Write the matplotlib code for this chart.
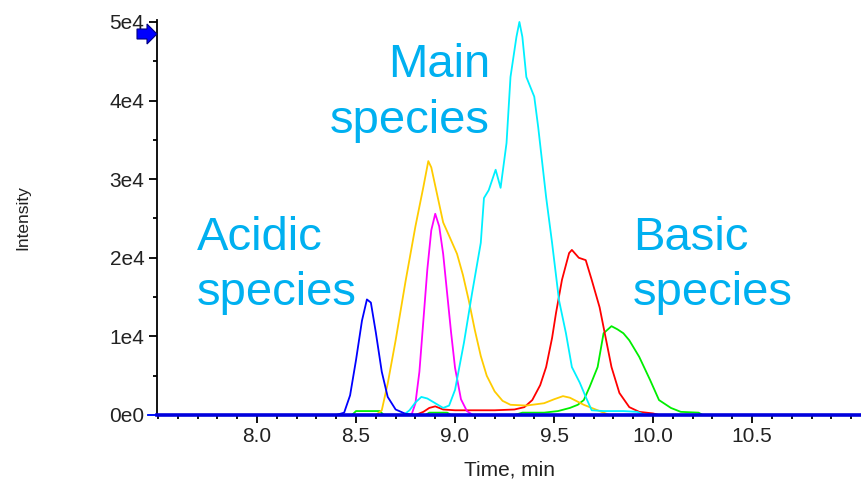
import matplotlib
matplotlib.use("Agg")
import matplotlib.pyplot as plt
from matplotlib.patches import Polygon
from matplotlib.ticker import MultipleLocator, FixedLocator

plt.rcParams['font.family'] = ['Liberation Sans', 'DejaVu Sans']

# chromatogram traces (time in min, intensity in counts)
blue_t = [7.45, 8.40, 8.44, 8.47, 8.50, 8.53, 8.555, 8.575, 8.60, 8.63, 8.66, 8.70, 8.75, 8.80, 11.1]
blue_i = [0, 0, 300, 2500, 7000, 12000, 14700, 14300, 10500, 5500, 2300, 700, 150, 0, 0]

yellow_t = [7.45, 8.60, 8.63, 8.66, 8.70, 8.75, 8.80, 8.84, 8.865, 8.88, 8.91, 8.94, 8.97, 9.01,
            9.04, 9.07, 9.10, 9.13, 9.16, 9.20, 9.24, 9.28, 9.36, 9.45, 9.50, 9.545, 9.58, 9.65,
            9.72, 9.78, 11.1]
yellow_i = [0, 0, 600, 4000, 9500, 17000, 24000, 29000, 32300, 31500, 28000, 24500, 22800, 20500,
            17800, 14500, 10800, 7500, 5000, 3000, 1800, 1300, 1200, 1500, 2000, 2400, 2200, 1300,
            600, 0, 0]

magenta_t = [7.45, 8.78, 8.80, 8.82, 8.84, 8.86, 8.88, 8.90, 8.92, 8.94, 8.96, 8.98, 9.00, 9.03,
             9.06, 9.09, 11.1]
magenta_i = [0, 0, 1500, 5500, 12000, 18500, 23500, 25600, 24000, 20500, 15500, 10500, 6000, 2000,
             500, 0, 0]

cyan_t = [7.45, 8.74, 8.77, 8.80, 8.83, 8.86, 8.90, 8.94, 8.97, 9.00, 9.045, 9.086, 9.13, 9.146,
          9.17, 9.205, 9.23, 9.26, 9.28, 9.31, 9.325, 9.34, 9.36, 9.40, 9.42, 9.46, 9.49, 9.525,
          9.56, 9.59, 9.63, 9.66, 9.69, 9.75, 9.85, 9.92, 9.96, 11.1]
cyan_i = [0, 0, 600, 1600, 2300, 2100, 1500, 900, 1200, 3200, 9200, 15500, 21900, 27600,
          28600, 31200, 28900, 34600, 43000, 48100, 50000, 48100, 43000, 40500, 36600, 27700, 21900, 14600,
          10400, 6100, 4100, 2300, 600, 500, 500, 400, 0, 0]

red_t = [7.45, 8.80, 8.84, 8.87, 8.90, 8.94, 9.00, 9.10, 9.20, 9.30, 9.35, 9.39, 9.43, 9.46, 9.49,
         9.51, 9.54, 9.576, 9.59, 9.625, 9.66, 9.69, 9.73, 9.76, 9.79, 9.83, 9.88, 9.93, 10.0, 10.03, 11.1]
red_i = [0, 0, 400, 900, 1100, 700, 600, 600, 600, 700, 1000, 1900, 3800, 6100, 9800,
         13000, 17200, 20600, 21000, 20000, 19700, 17200, 13700, 9900, 6100, 2800, 1000, 400, 200, 0, 0]

green_t = [7.45, 8.48, 8.50, 8.62, 8.64, 8.85, 8.87, 8.96, 8.98, 9.30, 9.34, 9.45, 9.52, 9.58, 9.62,
           9.65, 9.68, 9.72, 9.75, 9.79, 9.82, 9.85, 9.88, 9.93, 9.985, 10.03, 10.09, 10.14, 10.23, 10.25, 11.1]
green_i = [0, 0, 500, 500, 0, 0, 300, 300, 0, 0, 300, 300, 500, 900, 1300,
           1900, 3600, 6100, 10400, 11300, 10900, 10400, 9500, 7400, 4450, 1900, 900, 400, 300, 0, 0]

x_ticks = [8.0, 8.5, 9.0, 9.5, 10.0, 10.5]
x_labels = ['8.0', '8.5', '9.0', '9.5', '10.0', '10.5']
y_ticks = [0, 10000, 20000, 30000, 40000, 50000]
y_labels = ['0e0', '1e4', '2e4', '3e4', '4e4', '5e4']

W, H = 862, 480
fig = plt.figure(figsize=(W / 100, H / 100), dpi=100)
ax = fig.add_axes([157 / W, (H - 415) / H, (W - 157) / W, (415 - 20) / H])

lw = 1.3
ax.plot(green_t, green_i, color='#00ee00', lw=lw, clip_on=False)
ax.plot(red_t, red_i, color='#ff0000', lw=lw, clip_on=False)
ax.plot(yellow_t, yellow_i, color='#ffcc00', lw=lw, clip_on=False)
ax.plot(magenta_t, magenta_i, color='#ff00ff', lw=lw, clip_on=False)
ax.plot(cyan_t, cyan_i, color='#00f0ff', lw=lw, clip_on=False)
ax.plot(blue_t, blue_i, color='#0000ff', lw=lw, clip_on=False)
# thick baseline
ax.axhline(0, color='#0000dd', lw=2.6, clip_on=False, zorder=5)

ax.set_xlim(7.495, 11.055)
ax.set_ylim(0, 50250)

for s in ['top', 'right']:
    ax.spines[s].set_visible(False)
ax.spines['left'].set_linewidth(1.3)
ax.spines['bottom'].set_linewidth(1.3)

ax.xaxis.set_major_locator(FixedLocator(x_ticks))
ax.set_xticklabels(x_labels)
ax.xaxis.set_minor_locator(MultipleLocator(0.1))
ax.yaxis.set_major_locator(FixedLocator(y_ticks))
ax.set_yticklabels(y_labels)
ax.yaxis.set_minor_locator(MultipleLocator(5000))
ax.tick_params(axis='both', which='major', length=6, width=1.3, labelsize=15, pad=3,
               labelcolor='#222222')
ax.tick_params(axis='both', which='minor', length=3, width=1.3)

ax.set_xlabel('Time, min', fontsize=15, labelpad=10, color='#222222')
ax.set_ylabel('Intensity', fontsize=12.5, color='#222222')
ax.yaxis.set_label_coords(-0.18, 0.5)

txt = '#00b0f0'
fs = 34
ax.text(9.177, 43000, 'Main', color=txt, fontsize=fs, ha='right', va='baseline')
ax.text(9.177, 35880, 'species', color=txt, fontsize=fs, ha='right', va='baseline')
ax.text(7.697, 20990, 'Acidic', color=txt, fontsize=fs, ha='left', va='baseline')
ax.text(7.697, 13990, 'species', color=txt, fontsize=fs, ha='left', va='baseline')
ax.text(9.899, 20990, 'Basic', color=txt, fontsize=fs, ha='left', va='baseline')
ax.text(9.899, 13990, 'species', color=txt, fontsize=fs, ha='left', va='baseline')

# blue marker arrow at top of the y axis
arrow_px = [(137, 29), (147, 29), (147, 24), (157, 34), (147, 44), (147, 39), (137, 39)]
fig.patches.append(Polygon([(x / W, 1 - y / H) for x, y in arrow_px], closed=True,
                           transform=fig.transFigure, facecolor='#0000ff',
                           edgecolor='#000080', lw=0.8, zorder=10))

fig.savefig('out.png', dpi=100)
